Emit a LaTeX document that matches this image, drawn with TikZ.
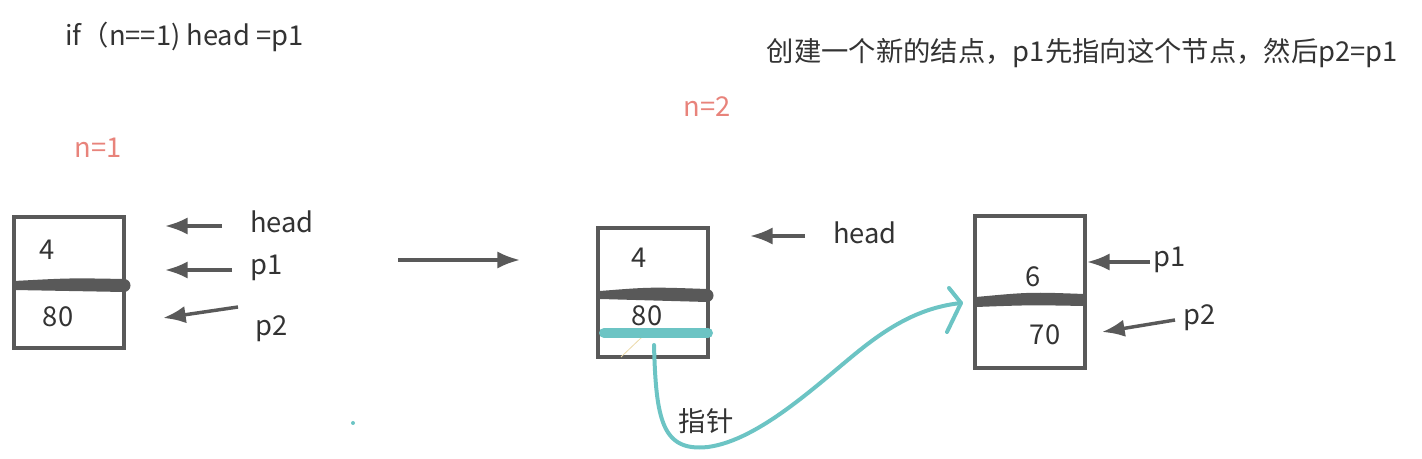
\documentclass[tikz,border=0pt]{standalone}
\usepackage{fontspec}
\setmainfont{Noto Sans CJK SC}
\usepackage{xcolor}
\usepackage{tikz}
\usetikzlibrary{arrows.meta}
\definecolor{inkc}{HTML}{595959}
\definecolor{textc}{HTML}{333333}
\definecolor{salm}{HTML}{E8837B}
\definecolor{tealc}{HTML}{6CC4C4}
\definecolor{straw}{HTML}{EBD9A8}
\tikzset{
  ptr/.style={-{Latex[length=17pt,width=13pt]},line width=2.6pt,inkc},
  lbl/.style={font=\fontsize{20.5}{22}\selectfont,text=textc,inner sep=0pt},
  cellbox/.style={draw=inkc,line width=3pt},
  tealpen/.style={tealc,line width=3pt,line cap=round,line join=round}
}
\begin{document}
\begin{tikzpicture}[x=0.75pt,y=-0.75pt]
\useasboundingbox (0,0) rectangle (1422,459);
% texts on top
\node[lbl,anchor=west] (cond) at (65,37) {if（n==1) head =p1};
\node[lbl,anchor=east] (note) at (1398,53) {创建一个新的结点，p1先指向这个节点，然后p2=p1};
\node[lbl,text=salm] (n1) at (98,148) {n=1};
\node[lbl,text=salm] (n2) at (707,107) {n=2};

% n=1 : one node
\draw[cellbox] (14,217) rectangle (124,348);
\fill[inkc] (14,281) .. controls (70,278) .. (124,279) arc[start angle=-90,end angle=90,radius=6.5] -- (14,290) -- cycle;
\node[lbl] (v4a) at (47,250) {4};
\node[lbl] (v80a) at (58,317) {80};
\node[lbl] (hd1) at (282,222) {head};
\node[lbl] (pa1) at (267,268) {p1};
\node[lbl] (pb1) at (272,329) {p2};
\coordinate (hd1s) at (222,226); \coordinate (hd1e) at (165,226);
\coordinate (pa1s) at (232,270); \coordinate (pa1e) at (165,270);
\coordinate (pb1s) at (238,307); \coordinate (pb1e) at (163,318);
\draw[ptr] (hd1s) -- (hd1e);
\draw[ptr] (pa1s) -- (pa1e);
\draw[ptr] (pb1s) -- (pb1e);

% step arrow
\coordinate (go1) at (398,260); \coordinate (go2) at (520,260);
\draw[ptr] (go1) -- (go2);
\fill[tealc] (353,423) circle (2);

% n=2 : first node
\draw[cellbox] (598,228) rectangle (708,357);
\fill[inkc] (600,291) .. controls (650,287) .. (707,289) arc[start angle=-90,end angle=90,radius=6.5] -- (600,299) -- cycle;
\draw[straw,line width=0.6pt] (621,357) -- (642,337);
\draw[tealc,line width=7.5pt,line cap=round] (604,333) -- (708,333);
\node[lbl] (v4b) at (639,258) {4};
\node[lbl] (v80b) at (647,316) {80};
\node[lbl] (hd2) at (865,233) {head};
\coordinate (hd2s) at (805,236); \coordinate (hd2e) at (750,236);
\draw[ptr] (hd2s) -- (hd2e);

% pointer to the new node
\coordinate (lnks) at (654,345);
\coordinate (lnke) at (961,303);
\draw[tealpen] (lnks) .. controls (656,420) and (662,452) .. (708,447)
  .. controls (760,440) and (820,382) .. (860,350)
  .. controls (895,322) and (925,307) .. (lnke);
\draw[tealpen] (949,288) -- (lnke) -- (947,332);
\node[lbl] (lnk) at (706,421) {指针};

% n=2 : new node
\draw[cellbox] (975,216) rectangle (1085,368);
\fill[inkc] (976,297) .. controls (1030,292) .. (1084,294) -- (1084,306) .. controls (1030,305) .. (976,307) -- cycle;
\node[lbl] (v6) at (1033,277) {6};
\node[lbl] (v70) at (1045,335) {70};
\node[lbl] (pa2) at (1170,260) {p1};
\node[lbl] (pb2) at (1200,318) {p2};
\coordinate (pa2s) at (1150,262); \coordinate (pa2e) at (1087,262);
\coordinate (pb2s) at (1175,320); \coordinate (pb2e) at (1102,332);
\draw[ptr] (pa2s) -- (pa2e);
\draw[ptr] (pb2s) -- (pb2e);
\end{tikzpicture}
\end{document}
